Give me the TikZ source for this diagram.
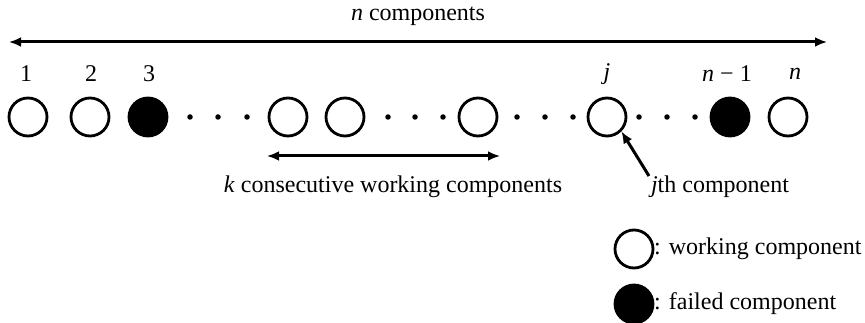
\documentclass[tikz,border=0pt]{standalone}
\usepackage{fontspec}
\setmainfont{Liberation Serif}
\usetikzlibrary{arrows.meta}
\begin{document}
\begin{tikzpicture}[x=1pt,y=-1pt,
  comp/.style={circle,draw,line width=2.8pt,minimum size=38pt,inner sep=0pt},
  wcomp/.style={comp,fill=white},
  fcomp/.style={comp,fill=black},
  dotp/.style={circle,fill=black,minimum size=5.5pt,inner sep=0pt},
  lbl/.style={font=\fontsize{24}{28}\selectfont,inner sep=0pt},
  arr/.style={line width=3pt,{Latex[length=12pt,width=10pt]}-{Latex[length=12pt,width=10pt]}},
  sarr/.style={line width=3pt,-{Latex[length=12pt,width=10pt]}}]
\useasboundingbox (0,0) rectangle (865,323);
% components
\node[wcomp] (c1) at (28,117) {};
\node[wcomp] (c2) at (90,117) {};
\node[fcomp] (c3) at (148,117) {};
\node[dotp] (d1) at (190,117) {};
\node[dotp] (d2) at (218,117) {};
\node[dotp] (d3) at (247,117) {};
\node[wcomp] (c4) at (288,117) {};
\node[wcomp] (c5) at (345,117) {};
\node[dotp] (d4) at (388,117) {};
\node[dotp] (d5) at (415,117) {};
\node[dotp] (d6) at (443,117) {};
\node[wcomp] (c6) at (478,117) {};
\node[dotp] (d7) at (517,117) {};
\node[dotp] (d8) at (545,117) {};
\node[dotp] (d9) at (573,117) {};
\node[wcomp] (cj) at (607,117) {};
\node[dotp] (d10) at (639,117) {};
\node[dotp] (d11) at (667,117) {};
\node[dotp] (d12) at (695,117) {};
\node[fcomp] (cn1) at (730,117) {};
\node[wcomp] (cn) at (788,117) {};
% labels
\node[lbl] (l1) at (26,74) {1};
\node[lbl] (l2) at (91,74) {2};
\node[lbl] (l3) at (149,74) {3};
\node[lbl] (lj) at (607,74) {\textit{j}};
\node[lbl] (ln1) at (727,74) {\textit{n} − 1};
\node[lbl] (ln) at (795,74) {\textit{n}};
% top arrow
\coordinate (tl) at (9,42);
\coordinate (tr) at (827,42);
\draw[arr] (tl) -- (tr);
\node[lbl] (ncomp) at (418,16) {\textit{n} components};
% k arrow
\coordinate (kl) at (267,156);
\coordinate (kr) at (500,156);
\draw[arr] (kl) -- (kr);
\node[lbl] (kcomp) at (393,187) {\textit{k} consecutive working components};
% jth component
\node[lbl] (jcomp) at (720,187) {\textit{j}th component};
\coordinate (jtail) at (649,176);
\draw[sarr] (jtail) -- (cj.-45);
% legend
\node[wcomp] (lw) at (634,249) {};
\node[lbl,anchor=west] (lwt) at (654,249) {: working component};
\node[fcomp] (lf) at (634,304) {};
\node[lbl,anchor=west] (lft) at (654,304) {: failed component};
\end{tikzpicture}
\end{document}
